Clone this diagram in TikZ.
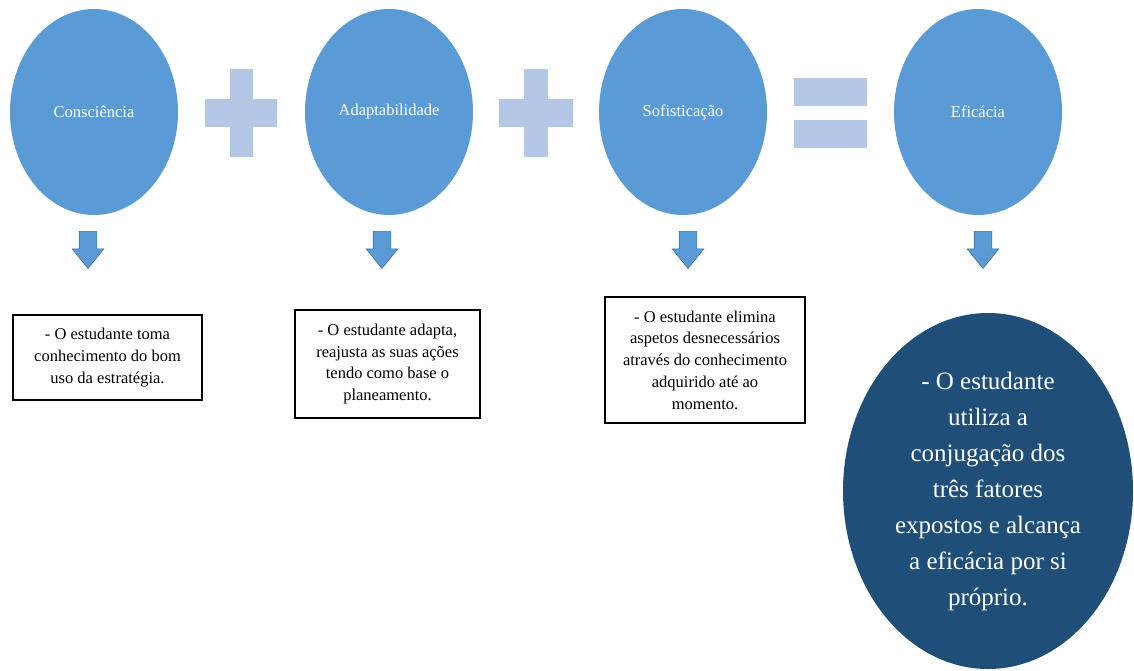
\documentclass[tikz,border=0pt]{standalone}
\usepackage{fontspec}
\setmainfont{Liberation Serif}
\usetikzlibrary{shapes.geometric,shapes.arrows,positioning}
\definecolor{bolha}{HTML}{5B9BD5}
\definecolor{bolhaescura}{HTML}{1F4E79}
\definecolor{sinal}{HTML}{B4C7E7}
\definecolor{setaborda}{HTML}{41719C}

\begin{document}
\begin{tikzpicture}[x=1pt,y=-1pt]
		\useasboundingbox (0,0) rectangle (1134,670);

		\begin{scope}[every node/.style={ellipse,fill=bolha,text=white,inner sep=0pt,
				minimum width=168pt,minimum height=206pt,font=\fontsize{16.5}{20}\selectfont}]
			\node (cons) at (94,112) {Consciência};
			\node (adap) at (389,112) {Adaptabilidade};
			\node (sofi) at (683,112) {Sofisticação};
			\node (efic) at (978,112) {Eficácia};
		\end{scope}

		% sinais
		\begin{scope}[fill=sinal]
			\fill (205,99) rectangle (277,127);
			\fill (230,69) rectangle (253,157);
			\fill (499,99) rectangle (573,127);
			\fill (524,69) rectangle (548,157);
			\fill (794,78) rectangle (867,106);
			\fill (794,120) rectangle (867,148);
		\end{scope}

		\begin{scope}[every node/.style={single arrow,rotate=-90,fill=bolha,draw=setaborda,
				line width=0.6pt,inner xsep=0pt,inner ysep=8.5pt,minimum height=37pt,
				single arrow head extend=7pt,single arrow tip angle=78}]
			\node (s1) at (88,244.5) {};
			\node (s2) at (382,244.5) {};
			\node (s3) at (688,244.5) {};
			\node (s4) at (983,244.5) {};
		\end{scope}

		\begin{scope}[every node/.style={draw,line width=1.2pt,align=center,inner sep=0pt,
				font=\fontsize{16.5}{21.7}\selectfont}]
			\node[minimum width=189pt,minimum height=85pt] (t1) at (107.5,357.5)
				{- O estudante toma\\conhecimento do bom\\uso da estratégia.};
			\node[minimum width=185pt,minimum height=108pt] (t2) at (387.5,364)
				{- O estudante adapta,\\reajusta as suas ações\\tendo como base o\\planeamento.};
			\node[minimum width=200pt,minimum height=126pt] (t3) at (705,360)
				{- O estudante elimina\\aspetos desnecessários\\através do conhecimento\\adquirido até ao\\momento.};
		\end{scope}

		\node[ellipse,fill=bolhaescura,text=white,inner sep=0pt,minimum width=290pt,
			minimum height=356pt,align=center,font=\fontsize{25}{36}\selectfont] (t4) at (988,491)
			{- O estudante\\utiliza a\\conjugação dos\\três fatores\\expostos e alcança\\a eficácia por si\\próprio.};
	\end{tikzpicture}
\end{document}
